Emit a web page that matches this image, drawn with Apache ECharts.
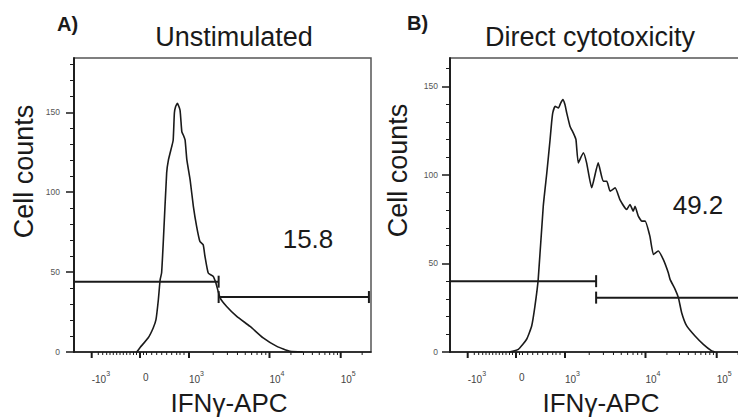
<!DOCTYPE html>
<html>
<head>
<meta charset="utf-8">
<script src="https://cdn.jsdelivr.net/npm/echarts@6/dist/echarts.min.js"></script>
<style>
html, body { margin: 0; padding: 0; background: #fff; }
#chart { width: 738px; height: 419px; }
</style>
</head>
<body>
<div id="chart"></div>
<script>
// x axis is the logicle display scale, 0-1000 display channels
var xMajorPos = [59.6, 222.2, 387.2, 658.2, 898];
var xMajorText = ['-10^3', '0', '10^3', '10^4', '10^5'];
var xLinearMinor = [81.8, 96.6, 110.1, 121.2, 132.3, 143.8, 154.9, 166.0, 177.4, 188.6, 200.3, 210.4,
  234.0, 244.1, 261.6, 278.5, 295.3, 312.1, 328.9, 345.8, 356.9, 370.4];
var decadePos = [387.2, 658.2, 898, 1137.8]; // 10^3 .. 10^6
var yMajor = [0, 50, 100, 150];

// Unstimulated histogram (display channel, cell count)
var unstimX = [211, 222, 250, 267, 276, 284, 290, 295, 301, 312, 318, 329, 334, 338, 342, 348, 357, 363, 368, 374,
  380, 391, 402, 413, 424, 435, 441, 452, 469, 478, 492, 514, 548, 593, 637, 683, 727, 771];
var unstimY = [0, 2.7, 8.9, 15.2, 20.2, 32.7, 45.2, 49.6, 70.2, 112.1, 120.2, 128.5, 132.7, 149.6, 153.5, 155.6, 151.4, 137.9, 135.8, 132.7,
  120.2, 107.7, 91.0, 78.5, 69.1, 67.1, 59.8, 49.4, 47.3, 43.0, 33.9, 28.5, 22.3, 16.0, 8.8, 3.5, 0.4, 0];

// Direct cytotoxicity histogram
var cytoX = [199, 230, 258, 275, 286, 297, 314, 326, 337, 342, 346, 354, 365, 373, 380, 387, 393, 404, 415, 424,
  432, 449, 460, 477, 499, 516, 528, 539, 556, 572, 595, 606, 617, 623, 634, 646, 657, 673, 685, 701,
  718, 735, 741, 758, 769, 780, 797, 825, 853, 881, 892];
var cytoY = [0, 1.5, 7.2, 14.7, 25.9, 41.0, 82.3, 101.2, 120.0, 129.4, 135.0, 138.7, 137.8, 140.7, 142.5, 139.7, 135.0, 127.5, 123.7, 120.0,
  106.8, 112.5, 106.8, 92.7, 106.8, 96.4, 96.4, 90.8, 92.7, 86.1, 80.5, 83.3, 79.5, 82.3, 76.7, 73.9, 73.9, 65.4, 55.1, 57.0,
  52.3, 44.8, 41.0, 35.4, 30.7, 22.2, 14.7, 9.0, 4.3, 0.6, 0];

// gates: [left end, split, right end] and [negative level, positive level]
var gateEdgesA = [0, 487, 993];
var gateLevelsA = [44, 34.4];
var gateEdgesB = [0, 492, 995];
var gateLevelsB = [40, 30.7];
var pctA = '15.8';
var pctB = '49.2';

var FONT = '"Liberation Sans", Arial, sans-serif';
var INK = '#1a1a1a';

function zip(xs, ys) {
  return xs.map(function (x, i) { return [x, ys[i]]; });
}

function xMinorPos() {
  var out = xLinearMinor.slice();
  for (var d = 0; d < decadePos.length - 1; d++) {
    for (var m = 2; m <= 9; m++) {
      var p = decadePos[d] + Math.log10(m) * (decadePos[d + 1] - decadePos[d]);
      if (p < 1000) out.push(p);
    }
  }
  return out;
}

function yMinorPos(max) {
  var out = [];
  for (var v = 10; v < max; v += 10) if (v % 50 !== 0) out.push(v);
  return out;
}

function xAxis(grid, namePad) {
  return {
    gridIndex: grid, type: 'value', min: 0, max: 1000, position: 'bottom',
    axisLine: { show: true, onZero: false, lineStyle: { color: INK, width: 1.5 } },
    axisTick: { show: false },
    axisLabel: {
      customValues: xMajorPos, margin: 18, align: 'left',
      formatter: function (v) {
        var t = xMajorText[xMajorPos.indexOf(v)];
        if (t === '0') return '{z|0}';
        var p = t.split('^');
        return '{b|' + p[0] + '}{s|' + p[1] + '}';
      },
      rich: {
        b: { fontSize: 10, fontFamily: FONT, color: '#444', lineHeight: 14, verticalAlign: 'bottom' },
        s: { fontSize: 7, fontFamily: FONT, color: '#444', lineHeight: 8, verticalAlign: 'top' },
        z: { fontSize: 10, fontFamily: FONT, color: '#444', lineHeight: 14, padding: [0, 0, 0, 3] }
      }
    },
    splitLine: { show: false },
    name: 'IFNγ-APC', nameLocation: 'middle', nameGap: 38,
    nameTextStyle: { fontSize: 26, lineHeight: 26, fontFamily: FONT, color: INK, padding: [0, 0, 0, namePad] }
  };
}

function yAxes(grid, max, gap, namePad, labelMargin) {
  return [
    {
      gridIndex: grid, type: 'value', min: 0, max: max, position: 'left',
      axisLine: { show: true, onZero: false, lineStyle: { color: INK, width: 1.5 } },
      axisTick: { show: true, customValues: yMajor, length: 8, lineStyle: { color: INK, width: 1.5 } },
      axisLabel: { customValues: yMajor, fontSize: 8.5, fontFamily: FONT, color: '#555', margin: labelMargin },
      splitLine: { show: false },
      name: 'Cell counts', nameLocation: 'middle', nameGap: gap,
      nameTextStyle: { fontSize: 27, fontFamily: FONT, color: INK, padding: [0, 0, 0, namePad] }
    },
    {
      gridIndex: grid, type: 'value', min: 0, max: max, position: 'left',
      axisLine: { show: true, onZero: false, lineStyle: { color: INK, width: 1.5 } },
      axisTick: { show: true, customValues: yMinorPos(max), length: 4, lineStyle: { color: INK, width: 1 } },
      axisLabel: { show: false },
      splitLine: { show: false }
    }
  ];
}

// x-axis ticks drawn through the axis scale (v6 hides x ticks here)
function tickSeries(xi, yi, positions, len, width) {
  return {
    type: 'custom', xAxisIndex: xi, yAxisIndex: yi, silent: true, clip: false, z: 5,
    data: positions.map(function (p) { return [p]; }),
    encode: { x: 0 },
    renderItem: function (params, api) {
      var pt = api.coord([api.value(0), 0]);
      return {
        type: 'line',
        shape: { x1: pt[0], y1: pt[1], x2: pt[0], y2: pt[1] + len },
        style: { stroke: INK, lineWidth: width }
      };
    }
  };
}

function histSeries(xi, yi, data) {
  return {
    type: 'line', xAxisIndex: xi, yAxisIndex: yi, data: data,
    showSymbol: false, smooth: 0.15, silent: true,
    lineStyle: { color: INK, width: 1.6 }
  };
}

function gateSeries(xi, yi, edges, levels) {
  var base = {
    type: 'line', xAxisIndex: xi, yAxisIndex: yi, silent: true,
    symbol: 'rect', symbolSize: [2, 12], showSymbol: true,
    itemStyle: { color: INK }, lineStyle: { color: INK, width: 2 }
  };
  return [
    Object.assign({}, base, {
      data: [{ value: [edges[0], levels[0]], symbol: 'none' }, [edges[1], levels[0]]]
    }),
    Object.assign({}, base, {
      data: [[edges[1], levels[1]], [edges[2], levels[1]]]
    })
  ];
}

var chart = echarts.init(document.getElementById('chart'), null, { renderer: 'svg' });

var option = {
  animation: false,
  backgroundColor: '#fff',
  grid: [
    { left: 74, top: 58, width: 297, height: 294, outerBoundsMode: 'none', show: true, borderColor: '#555', borderWidth: 1.5 },
    { left: 450, top: 58, width: 297, height: 294, outerBoundsMode: 'none', show: true, borderColor: '#555', borderWidth: 1.5 }
  ],
  xAxis: [xAxis(0, 13), xAxis(1, 5)],
  yAxis: yAxes(0, 184, 37, 67, 14).concat(yAxes(1, 166, 39, 69, 12)),
  series: [
    histSeries(0, 0, zip(unstimX, unstimY)),
    histSeries(1, 2, zip(cytoX, cytoY)),
    tickSeries(0, 0, xMajorPos, 6, 2),
    tickSeries(0, 0, xMinorPos(), 3, 1),
    tickSeries(1, 2, xMajorPos, 6, 2),
    tickSeries(1, 2, xMinorPos(), 3, 1)
  ].concat(gateSeries(0, 0, gateEdgesA, gateLevelsA), gateSeries(1, 2, gateEdgesB, gateLevelsB)),
  graphic: [
    { type: 'text', left: 57, top: 14, style: { text: 'A)', font: 'bold 20px ' + FONT, fill: INK } },
    { type: 'text', left: 407, top: 13, style: { text: 'B)', font: 'bold 20px ' + FONT, fill: INK } },
    { type: 'text', x: 234, y: 37, style: { text: 'Unstimulated', font: '27px ' + FONT, fill: INK, align: 'center', verticalAlign: 'middle' } },
    { type: 'text', x: 590, y: 37, style: { text: 'Direct cytotoxicity', font: '27px ' + FONT, fill: INK, align: 'center', verticalAlign: 'middle' } },
    { type: 'text', x: 308, y: 239, style: { text: pctA, font: '26px ' + FONT, fill: INK, align: 'center', verticalAlign: 'middle' } },
    { type: 'text', x: 698, y: 205, style: { text: pctB, font: '26px ' + FONT, fill: INK, align: 'center', verticalAlign: 'middle' } }
  ]
};

chart.setOption(option);
</script>
</body>
</html>
